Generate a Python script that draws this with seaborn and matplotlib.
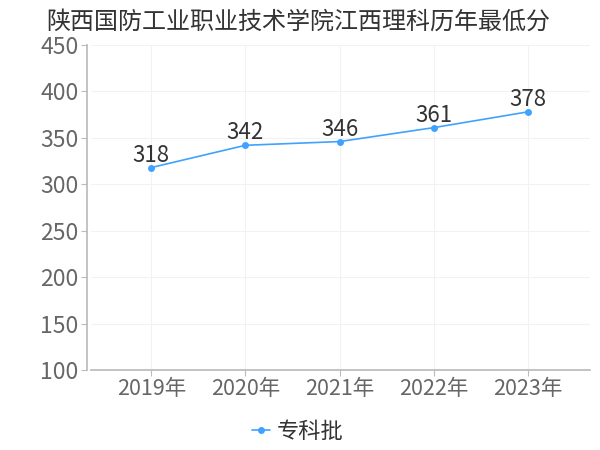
import pandas as pd
import matplotlib.pyplot as plt
import seaborn as sns

years = ['2019年', '2020年', '2021年', '2022年', '2023年']
scores = [318, 342, 346, 361, 378]
series = '专科批'

df = pd.DataFrame({'year': years, 'score': scores})

sns.set_theme(style="white")
plt.rcParams['font.family'] = ['Noto Sans CJK SC', 'DejaVu Sans']

fig = plt.figure(figsize=(6, 4.5), dpi=100)
ax = fig.add_axes([91/600, 1-370/450, 499/600, 325/450])

line_color = '#3fa2ff'
sns.lineplot(data=df, x='year', y='score', marker='o', markersize=5,
             markeredgewidth=0, color=line_color, linewidth=1.2, ax=ax,
             label=series, sort=False)

for i, v in enumerate(scores):
    ax.text(i, v + 1, str(v), ha='center', va='bottom', fontsize=16, color='#333333')

ax.set_ylim(100, 450)
ax.set_yticks(range(100, 451, 50))
ax.set_xlim(-0.64, 4.66)
ax.set_xlabel('')
ax.set_ylabel('')

ax.grid(True, color='#f2f2f2', linewidth=0.8)
for s in ['top', 'right']:
    ax.spines[s].set_visible(False)
ax.spines['left'].set_color('#bbbbbb')
ax.spines['bottom'].set_color('#bbbbbb')
ax.spines['left'].set_position(('outward', 3))
ax.tick_params(axis='both', colors='#bbbbbb', length=4, width=0.8,
               labelcolor='#666666', labelsize=15.5, left=True, bottom=True, pad=2)
ax.tick_params(axis='y', labelsize=16.5)

fig.text(0.497, 0.952, '陕西国防工业职业技术学院江西理科历年最低分', ha='center',
         va='center', fontsize=17.3, color='#333333')

ax.legend(loc='center', bbox_to_anchor=(0.415, -0.19), frameon=False,
          fontsize=16, handlelength=0.8, handletextpad=0.3, labelcolor='#333333')

fig.savefig('out.png', dpi=100)
